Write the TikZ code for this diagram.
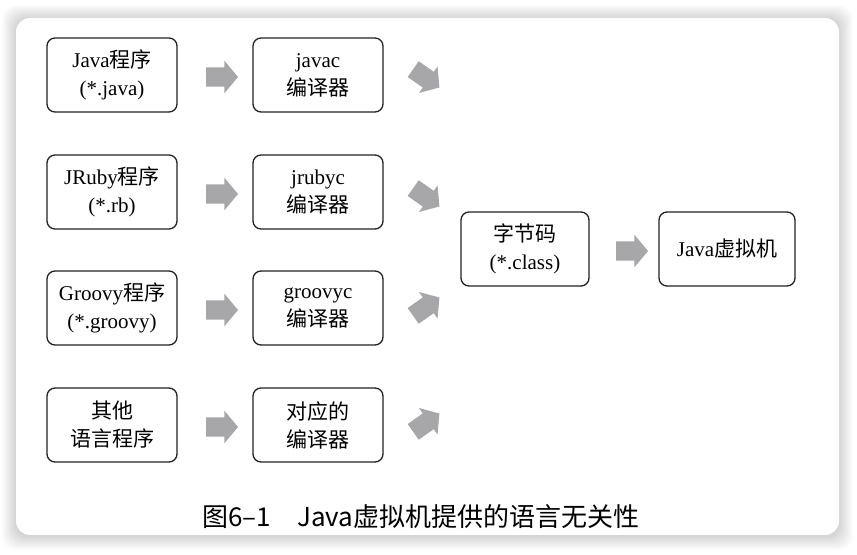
\documentclass[tikz,border=0pt]{standalone}
\usepackage{fontspec}
\setmainfont{Liberation Serif}
\newfontfamily\cjk{Noto Sans CJK SC}
\usepackage{tikz}
\usetikzlibrary{shapes.arrows, positioning}
\definecolor{jvmgray}{HTML}{A7A7AA}
\definecolor{jvmline}{HTML}{222222}
\tikzset{
  srcbox/.style={draw=jvmline, line width=0.65pt, rounded corners=4pt, fill=white,
    minimum width=65pt, minimum height=37pt, align=center, inner sep=2pt,
    font=\fontsize{10.5}{14}\selectfont},
  blockarrow/.style={single arrow, fill=jvmgray, draw=none,
    inner xsep=0pt, inner ysep=4.6pt, minimum height=16pt, minimum width=0pt,
    single arrow head extend=3.3pt, single arrow tip angle=100}
}

\begin{document}
\begin{tikzpicture}[x=0.5pt, y=-0.5pt]
    \useasboundingbox (0,0) rectangle (857,555);
    \fill[white] (0,0) rectangle (857,555);

    % Card and its soft shadow
    \foreach \s in {1,...,14}
        \fill[black, opacity=0.012, rounded corners=7pt]
            (16-\s, 19-\s) rectangle (839+\s, 536+\s);
    \fill[white, rounded corners=7pt] (16,18) rectangle (839,535);

    % Source programs
    \node[srcbox] (javasrc) at (112,75) {Java{\cjk 程序}\\(*.java)};
    \node[srcbox] (jrubysrc) at (112,192) {JRuby{\cjk 程序}\\(*.rb)};
    \node[srcbox] (groovysrc) at (112,308) {Groovy{\cjk 程序}\\(*.groovy)};
    \node[srcbox] (othersrc) at (112,425) {{\cjk 其他}\\{\cjk 语言程序}};

    % Compilers
    \node[srcbox] (javac) at (318,75) {javac\\{\cjk 编译器}};
    \node[srcbox] (jrubyc) at (318,192) {jrubyc\\{\cjk 编译器}};
    \node[srcbox] (groovyc) at (318,308) {groovyc\\{\cjk 编译器}};
    \node[srcbox] (otherc) at (318,425) {{\cjk 对应的}\\{\cjk 编译器}};

    % Bytecode and virtual machine
    \node[srcbox, minimum width=64pt] (bytecode) at (525,249) {{\cjk 字节码}\\(*.class)};
    \node[srcbox, minimum width=68pt] (jvm) at (727,249) {Java{\cjk 虚拟机}};

    % Block arrows
    \node[blockarrow] (javaarr) at (218,77) {};
    \node[blockarrow] (jrubyarr) at (218,194) {};
    \node[blockarrow] (groovyarr) at (218,310) {};
    \node[blockarrow] (otherarr) at (218,427) {};

    \node[blockarrow, rotate=-35] (javacarr) at (423,76) {};
    \node[blockarrow, rotate=-35] (jrubycarr) at (423,195) {};
    \node[blockarrow, rotate=35] (groovycarr) at (423,309) {};
    \node[blockarrow, rotate=35] (othercarr) at (423,425) {};

    \node[blockarrow] (classarr) at (628,251) {};

    % Caption
    \node[font=\cjk\fontsize{13}{15}\selectfont] (caption) at (421,517)
        {图6–1\quad Java虚拟机提供的语言无关性};
\end{tikzpicture}
\end{document}
